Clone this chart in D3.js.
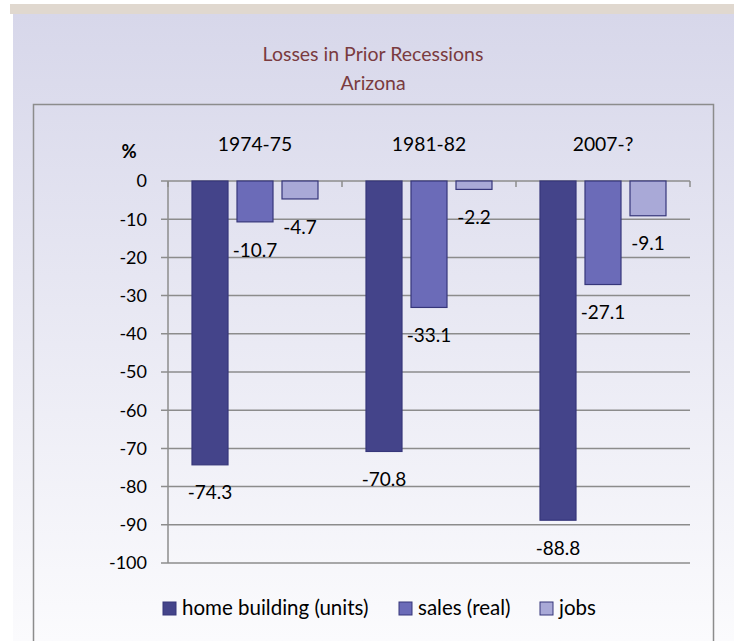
<!DOCTYPE html>
<html><head><meta charset="utf-8">
<script src="https://cdn.jsdelivr.net/npm/d3@7"></script>
<style>html,body{margin:0;padding:0;background:#fff;}svg{display:block;}</style>
</head><body>
<svg id="chart" width="734" height="641"></svg>
<script>
const categories = ["1974-75", "1981-82", "2007-?"];
const seriesNames = ["home building (units)", "sales (real)", "jobs"];
const homeBuilding = [-74.3, -70.8, -88.8];
const sales = [-10.7, -33.1, -27.1];
const jobs = [-4.7, -2.2, -9.1];
const yTicks = [0, -10, -20, -30, -40, -50, -60, -70, -80, -90, -100];
const titleLines = ["Losses in Prior Recessions", "Arizona"];
const colors = ["#44448a", "#6b6bb8", "#a9a9d7"];

const series = [homeBuilding, sales, jobs];
const font = "Lato, 'Open Sans', sans-serif";
const svg = d3.select("#chart");

// background
const defs = svg.append("defs");
const grad = defs.append("linearGradient").attr("id","bg").attr("x1",0).attr("y1",0).attr("x2",0).attr("y2",1);
grad.append("stop").attr("offset","0%").attr("stop-color","#d7d7ea");
grad.append("stop").attr("offset","100%").attr("stop-color","#fbfbfd");
svg.append("rect").attr("x",13).attr("y",14).attr("width",721).attr("height",627).attr("fill","url(#bg)");
svg.append("rect").attr("x",10).attr("y",4).attr("width",724).attr("height",10).attr("fill","#e0d8cf");

// chart box
svg.append("rect").attr("x",33.5).attr("y",104.5).attr("width",680).attr("height",560)
  .attr("fill","none").attr("stroke","#8c8c8c").attr("stroke-width",1.5);

// title
svg.selectAll("text.title").data(titleLines).enter().append("text")
  .attr("class","title").attr("x",373).attr("y",(d,i)=>54+i*29).attr("dy","0.35em")
  .attr("text-anchor","middle").attr("font-family",font).attr("font-size",19.5)
  .attr("fill","#7a3b40").text(d=>d);

const x0 = 168, x1 = 690, y0 = 181, y1 = 563;
const x = d3.scaleBand().domain(categories).range([x0,x1]).paddingInner(0).paddingOuter(0);
const y = d3.scaleLinear().domain([0,-100]).range([y0,y1]);
const xs = d3.scaleBand().domain(d3.range(series.length)).range([24, x.bandwidth()-24]).paddingInner(0.2);

// gridlines
svg.append("g").selectAll("line").data(yTicks).enter().append("line")
  .attr("x1",x0-7).attr("x2",x1).attr("y1",d=>y(d)).attr("y2",d=>y(d))
  .attr("stroke","#8c8c8c").attr("stroke-width",1.5);
// y axis line
svg.append("line").attr("x1",x0).attr("x2",x0).attr("y1",y0).attr("y2",y1)
  .attr("stroke","#8c8c8c").attr("stroke-width",1.5);
// category ticks
const catEdges = categories.map(c=>x(c)+x.bandwidth()).concat([x0]);
svg.append("g").selectAll("line").data(catEdges).enter().append("line")
  .attr("x1",d=>d).attr("x2",d=>d).attr("y1",y0).attr("y2",y0+6)
  .attr("stroke","#8c8c8c").attr("stroke-width",1.5);

// y tick labels
svg.append("g").selectAll("text").data(yTicks).enter().append("text")
  .attr("x",147).attr("y",d=>y(d)).attr("dy","0.35em").attr("text-anchor","end")
  .attr("font-family",font).attr("font-size",18).attr("fill","#000").text(d=>d);
svg.append("text").attr("x",129).attr("y",152).attr("dy","0.35em").attr("text-anchor","middle")
  .attr("font-family",font).attr("font-size",18.5).attr("font-weight","bold").text("%");

// category labels
svg.append("g").selectAll("text").data(categories).enter().append("text")
  .attr("x",d=>x(d)+x.bandwidth()/2).attr("y",144).attr("dy","0.35em").attr("text-anchor","middle")
  .attr("font-family",font).attr("font-size",19.3).text(d=>d);

// bars
series.forEach((vals,si)=>{
  const g = svg.append("g");
  g.selectAll("rect").data(vals).enter().append("rect")
    .attr("x",(d,i)=>x(categories[i])+xs(si)).attr("width",xs.bandwidth())
    .attr("y",y(0)).attr("height",d=>y(d)-y(0))
    .attr("fill",colors[si]).attr("stroke","#36367a").attr("stroke-width",1.2);
  g.selectAll("text").data(vals).enter().append("text")
    .attr("x",(d,i)=>x(categories[i])+xs(si)+xs.bandwidth()/2).attr("y",d=>y(d)+28)
    .attr("dy","0.35em").attr("text-anchor","middle")
    .attr("font-family",font).attr("font-size",19).text(d=>d.toFixed(1));
});

// legend
const legX = [163, 399, 540];
const lg = svg.append("g");
seriesNames.forEach((n,i)=>{
  lg.append("rect").attr("x",legX[i]).attr("y",602).attr("width",13).attr("height",13)
    .attr("fill",colors[i]).attr("stroke","#36367a").attr("stroke-width",1);
  lg.append("text").attr("x",legX[i]+19).attr("y",608).attr("dy","0.35em")
    .attr("font-family",font).attr("font-size",20.5).text(n);
});
</script>
</body></html>
